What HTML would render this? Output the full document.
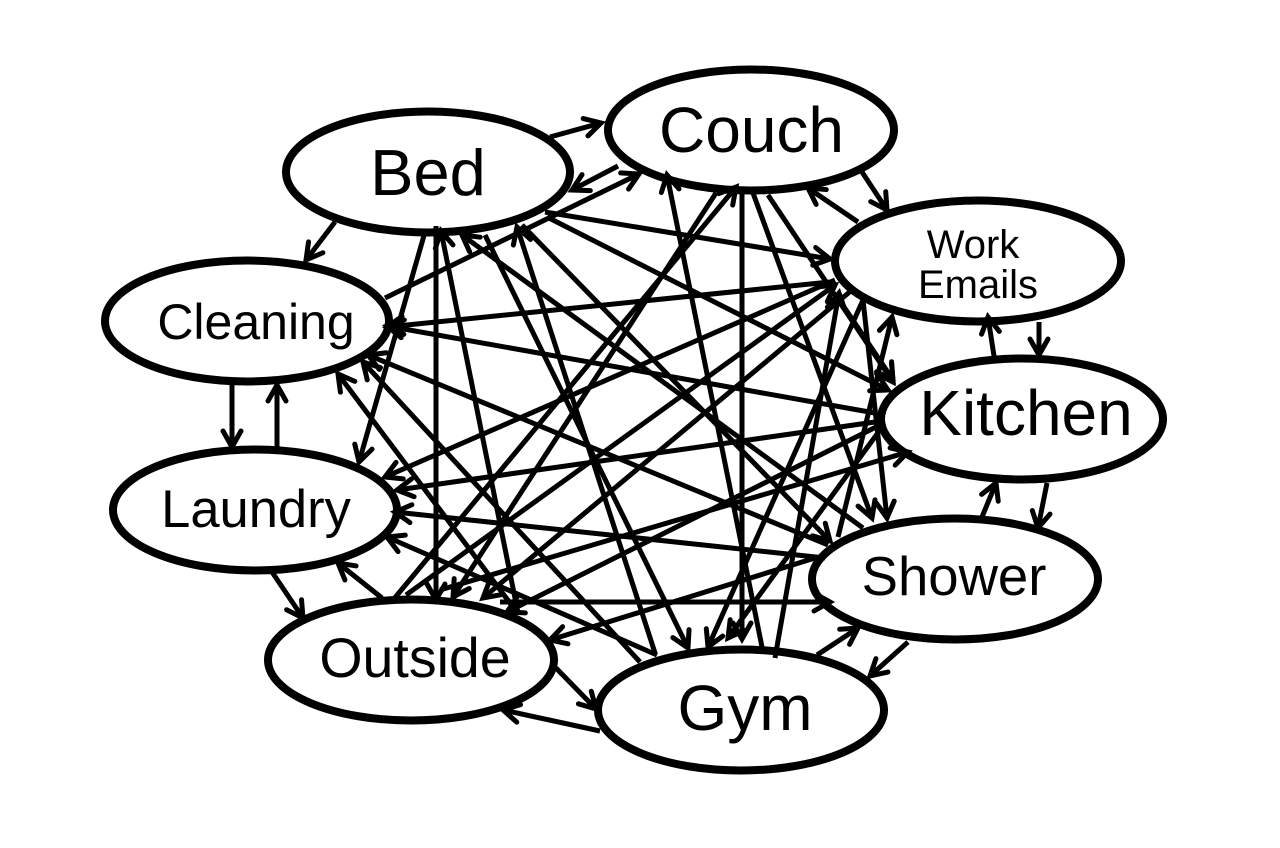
<!DOCTYPE html>
<html><head><meta charset="utf-8"><style>
html,body{margin:0;padding:0;background:#fff}
svg{display:block}
text{font-family:"Liberation Sans",Arial,sans-serif;fill:#000;text-anchor:middle}
ellipse{fill:#fff;stroke:#000;stroke-width:8}
line{stroke:#000;stroke-width:5;marker-end:url(#a)}
</style></head><body>
<svg width="1280" height="848" viewBox="0 0 1280 848" xmlns="http://www.w3.org/2000/svg">
<defs><marker id="a" markerUnits="userSpaceOnUse" markerWidth="30" markerHeight="30" refX="22" refY="15" orient="auto" overflow="visible"><path d="M6,6 L22,15 L6,24" fill="none" stroke="#000" stroke-width="5" stroke-linecap="round" stroke-linejoin="miter"/></marker></defs>
<ellipse cx="428" cy="172" rx="142" ry="60.5"/>
<ellipse cx="751" cy="130" rx="143" ry="60.5"/>
<ellipse cx="978" cy="261" rx="143" ry="60.5"/>
<ellipse cx="1022" cy="419" rx="141" ry="60.5"/>
<ellipse cx="955" cy="579" rx="143" ry="60.5"/>
<ellipse cx="741" cy="710" rx="143" ry="60.5"/>
<ellipse cx="411" cy="660" rx="143" ry="60.5"/>
<ellipse cx="255" cy="510" rx="142" ry="60.5"/>
<ellipse cx="247" cy="321" rx="142" ry="60.5"/>
<g>
<line x1="550" y1="137" x2="601" y2="123"/>
<line x1="618" y1="166" x2="572" y2="190"/>
<line x1="385" y1="298" x2="639" y2="174"/>
<line x1="335" y1="222" x2="306" y2="260"/>
<line x1="425" y1="232" x2="359" y2="462"/>
<line x1="436" y1="226" x2="436" y2="600"/>
<line x1="518" y1="613" x2="441" y2="231"/>
<line x1="485" y1="235" x2="688" y2="648"/>
<line x1="655" y1="653" x2="517" y2="227"/>
<line x1="863" y1="528" x2="462" y2="235"/>
<line x1="522" y1="225" x2="830" y2="541"/>
<line x1="547" y1="217" x2="888" y2="390"/>
<line x1="545" y1="212" x2="830" y2="259"/>
<line x1="875" y1="413" x2="387" y2="326"/>
<line x1="830" y1="282" x2="387" y2="327"/>
<line x1="828" y1="545" x2="368" y2="355"/>
<line x1="640" y1="662" x2="363" y2="362"/>
<line x1="513" y1="607" x2="338" y2="374"/>
<line x1="232" y1="383" x2="232" y2="447"/>
<line x1="277" y1="449" x2="277" y2="385"/>
<line x1="272" y1="572" x2="303" y2="618"/>
<line x1="382" y1="598" x2="338" y2="563"/>
<line x1="657" y1="655" x2="387" y2="537"/>
<line x1="825" y1="558" x2="395" y2="512"/>
<line x1="875" y1="422" x2="397" y2="490"/>
<line x1="835" y1="280" x2="385" y2="477"/>
<line x1="716" y1="193" x2="453" y2="597"/>
<line x1="852" y1="290" x2="483" y2="598"/>
<line x1="393" y1="600" x2="736" y2="187"/>
<line x1="406" y1="595" x2="835" y2="285"/>
<line x1="880" y1="425" x2="507" y2="612"/>
<line x1="440" y1="590" x2="908" y2="452"/>
<line x1="815" y1="558" x2="550" y2="640"/>
<line x1="500" y1="602" x2="830" y2="602"/>
<line x1="556" y1="668" x2="596" y2="709"/>
<line x1="600" y1="731" x2="503" y2="710"/>
<line x1="817" y1="655" x2="858" y2="628"/>
<line x1="908" y1="642" x2="870" y2="676"/>
<line x1="1047" y1="483" x2="1038" y2="528"/>
<line x1="982" y1="517" x2="996" y2="483"/>
<line x1="1039" y1="322" x2="1039" y2="355"/>
<line x1="994" y1="356" x2="988" y2="317"/>
<line x1="862" y1="172" x2="887" y2="210"/>
<line x1="858" y1="222" x2="808" y2="188"/>
<line x1="762" y1="647" x2="667" y2="175"/>
<line x1="742" y1="190" x2="742" y2="639"/>
<line x1="863" y1="300" x2="708" y2="647"/>
<line x1="775" y1="658" x2="839" y2="293"/>
<line x1="880" y1="430" x2="728" y2="638"/>
<line x1="753" y1="193" x2="872" y2="518"/>
<line x1="863" y1="300" x2="887" y2="518"/>
<line x1="768" y1="195" x2="893" y2="382"/>
<line x1="838" y1="537" x2="892" y2="317"/>
<line x1="838" y1="298" x2="893" y2="380"/>
</g>
<text x="428" y="195" font-size="65">Bed</text>
<text x="751.5" y="152" font-size="64">Couch</text>
<text x="973" y="258" font-size="40">Work</text>
<text x="978" y="298" font-size="40">Emails</text>
<text x="1026" y="435" font-size="64">Kitchen</text>
<text x="954" y="595" font-size="54.5">Shower</text>
<text x="745" y="730" font-size="64">Gym</text>
<text x="415" y="677" font-size="55.5">Outside</text>
<text x="256" y="527" font-size="52.5">Laundry</text>
<text x="256" y="339" font-size="50">Cleaning</text>
</svg>
</body></html>
